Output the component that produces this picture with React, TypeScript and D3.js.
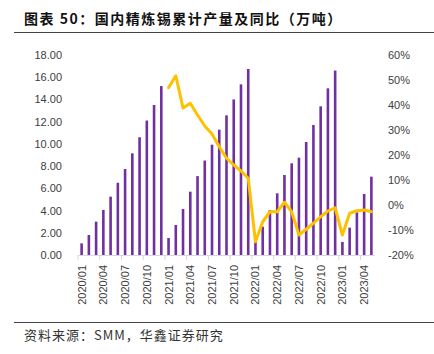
import React, { useEffect, useRef } from 'react';
import * as d3 from 'd3';

// months 2020/01 .. 2023/05
const months: string[] = [
  '2020/01', '2020/02', '2020/03', '2020/04', '2020/05', '2020/06', '2020/07', '2020/08', '2020/09', '2020/10', '2020/11', '2020/12',
  '2021/01', '2021/02', '2021/03', '2021/04', '2021/05', '2021/06', '2021/07', '2021/08', '2021/09', '2021/10', '2021/11', '2021/12',
  '2022/01', '2022/02', '2022/03', '2022/04', '2022/05', '2022/06', '2022/07', '2022/08', '2022/09', '2022/10', '2022/11', '2022/12',
  '2023/01', '2023/02', '2023/03', '2023/04', '2023/05',
];

// cumulative output, 10k tonnes
const output: number[] = [
  1.05, 1.8, 3.0, 4.05, 5.25, 6.5, 7.74, 9.15, 10.6, 12.1, 13.5, 15.2,
  1.53, 2.7, 4.14, 5.7, 7.1, 8.5, 9.93, 11.28, 12.57, 14.0, 15.36, 16.74,
  1.3, 2.55, 4.05, 5.55, 7.2, 8.25, 8.76, 10.17, 11.7, 13.38, 15.0, 16.6,
  1.17, 2.46, 3.84, 5.49, 7.05,
];

// yoy %, starts 2021/01
const yoy: (number | null)[] = [
  null, null, null, null, null, null, null, null, null, null, null, null,
  46.9, 51.7, 38.8, 40.7, 36, 31.6, 28.4, 23.3, 18.7, 16, 13.6, 10.7,
  -14.7, -6.7, -2.7, -2.7, 1.1, -2.7, -12, -9.7, -7.3, -4.7, -2.4, -1.1,
  -12, -3.3, -2.3, -2, -2.7,
];

const leftTicks = [0, 2, 4, 6, 8, 10, 12, 14, 16, 18];
const rightTicks = [-20, -10, 0, 10, 20, 30, 40, 50, 60];

const W = 434;
const H = 354;
const margin = { top: 55, right: 59, bottom: 99, left: 78 };
const tickFont = '"Liberation Sans", Arial, sans-serif';
const cjkFont = '"Noto Sans CJK SC", sans-serif';

export default function App() {
  const svgRef = useRef<SVGSVGElement>(null);

  useEffect(() => {
    if (!svgRef.current) return;
    const svg = d3.select(svgRef.current);
    svg.selectAll('*').remove();

    const x0 = margin.left;
    const x1 = W - margin.right;
    const y0 = H - margin.bottom;
    const y1 = margin.top;

    const x = d3.scaleBand<string>().domain(months).range([x0, x1]);
    const yL = d3.scaleLinear().domain([0, 18]).range([y0, y1]);
    const yR = d3.scaleLinear().domain([-20, 60]).range([y0, y1]);

    // title
    svg.append('text')
      .attr('x', 24).attr('y', 24)
      .attr('font-family', cjkFont)
      .attr('font-size', 14)
      .attr('font-weight', 'bold')
      .attr('letter-spacing', 1.5)
      .attr('fill', '#111')
      .text('图表 50：国内精炼锡累计产量及同比（万吨）');
    svg.append('line')
      .attr('x1', 14).attr('x2', W).attr('y1', 32.5).attr('y2', 32.5)
      .attr('stroke', '#444').attr('stroke-width', 1.2);

    // bars
    const bw = 2.6;
    svg.append('g')
      .selectAll('rect')
      .data(output)
      .enter()
      .append('rect')
      .attr('x', (d, i) => (x(months[i]) as number) + x.bandwidth() / 2 - bw / 2)
      .attr('y', (d) => yL(d))
      .attr('width', bw)
      .attr('height', (d) => y0 - yL(d))
      .attr('fill', '#7030A0');

    // x axis
    svg.append('line')
      .attr('x1', x0).attr('x2', x1).attr('y1', y0 + 0.5).attr('y2', y0 + 0.5)
      .attr('stroke', '#D9D9D9').attr('stroke-width', 1);

    const xa = svg.append('g');
    months.forEach((m, i) => {
      if (i % 3 !== 0) return;
      const bx = x(m) as number;
      xa.append('line')
        .attr('x1', bx).attr('x2', bx).attr('y1', y0).attr('y2', y0 + 5)
        .attr('stroke', '#D9D9D9');
      xa.append('text')
        .attr('transform', `translate(${bx + x.bandwidth() / 2 + 4},${y0 + 10}) rotate(-90)`)
        .attr('text-anchor', 'end')
        .attr('font-family', tickFont)
        .attr('font-size', 11)
        .attr('fill', '#404040')
        .text(m);
    });

    // left axis labels
    svg.append('g')
      .selectAll('text')
      .data(leftTicks)
      .enter()
      .append('text')
      .attr('x', 62)
      .attr('y', (d) => yL(d) + 4)
      .attr('text-anchor', 'end')
      .attr('font-family', tickFont)
      .attr('font-size', 11)
      .attr('fill', '#404040')
      .text((d) => d.toFixed(2));

    // right axis labels
    svg.append('g')
      .selectAll('text')
      .data(rightTicks)
      .enter()
      .append('text')
      .attr('x', 388)
      .attr('y', (d) => yR(d) + 4)
      .attr('text-anchor', 'start')
      .attr('font-family', tickFont)
      .attr('font-size', 11)
      .attr('fill', '#404040')
      .text((d) => `${d}%`);

    // yoy line
    const line = d3.line<number | null>()
      .defined((d) => d !== null)
      .x((d, i) => (x(months[i]) as number) + x.bandwidth() / 2)
      .y((d) => yR(d as number));

    svg.append('path')
      .datum(yoy)
      .attr('d', line)
      .attr('fill', 'none')
      .attr('stroke', '#FFC000')
      .attr('stroke-width', 3)
      .attr('stroke-linejoin', 'round')
      .attr('stroke-linecap', 'round');

    // footer
    svg.append('line')
      .attr('x1', 14).attr('x2', W).attr('y1', 322.5).attr('y2', 322.5)
      .attr('stroke', '#444').attr('stroke-width', 1.2);
    svg.append('text')
      .attr('x', 24).attr('y', 340)
      .attr('font-family', cjkFont)
      .attr('font-size', 13)
      .attr('letter-spacing', 1)
      .attr('fill', '#333')
      .text('资料来源：SMM，华鑫证券研究');
  }, []);

  return (
    <svg
      ref={svgRef}
      width={W}
      height={H}
      style={{ position: 'absolute', left: 0, top: 0, background: '#fff' }}
    />
  );
}
